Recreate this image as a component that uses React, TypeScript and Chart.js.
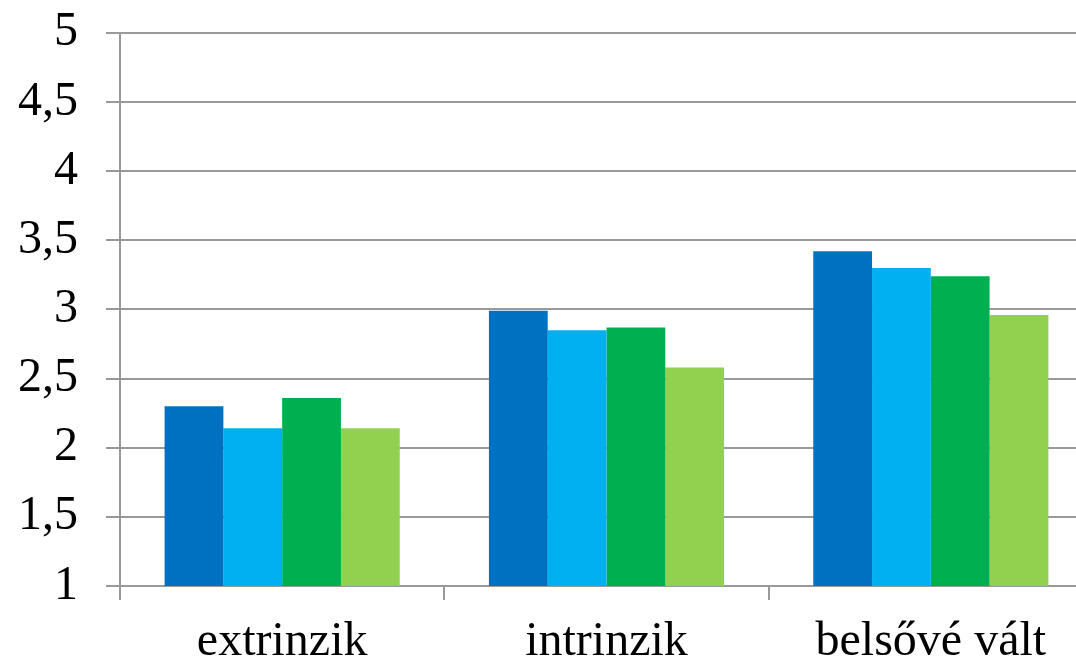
import React, { useEffect, useRef } from "react";
import { Chart, registerables } from "chart.js";

Chart.register(...registerables);

const categories = ["extrinzik", "intrinzik", "belsővé vált"];
const series1 = [2.3, 2.99, 3.42];
const series2 = [2.14, 2.85, 3.3];
const series3 = [2.36, 2.87, 3.24];
const series4 = [2.14, 2.58, 2.96];
const colors = ["#0070C0", "#00B0F0", "#00B050", "#92D050"];
const yTicks = [1, 1.5, 2, 2.5, 3, 3.5, 4, 4.5, 5];

export default function App() {
  const ref = useRef<HTMLCanvasElement | null>(null);
  useEffect(() => {
    document.body.style.margin = "0";
    const font = { family: "'Liberation Serif', 'Times New Roman', serif", size: 48 };
    const grid = "#999999";
    const chart = new Chart(ref.current!, {
      type: "bar",
      data: {
        labels: categories,
        datasets: [series1, series2, series3, series4].map((d, i) => ({
          label: "S" + (i + 1),
          data: d,
          backgroundColor: colors[i],
          borderWidth: 0,
          categoryPercentage: 0.725,
          barPercentage: 1,
        })),
      },
      options: {
        animation: false,
        responsive: false,
        maintainAspectRatio: false,
        layout: { padding: { top: 3, right: 0, left: 0, bottom: 0 } },
        plugins: { legend: { display: false }, tooltip: { enabled: false } },
        scales: {
          x: {
            grid: { drawOnChartArea: false, color: grid, lineWidth: 2, tickLength: 14, offset: true },
            border: { display: false },
            ticks: { font, color: "#000", padding: 14, maxRotation: 0 },
            afterFit: (s: any) => { s.height = 75; },
          },
          y: {
            min: 1,
            max: 5,
            grid: { color: grid, lineWidth: 2, tickLength: 14 },
            border: { color: grid, width: 2 },
            afterBuildTicks: (s: any) => { s.ticks = yTicks.map((v) => ({ value: v })); },
            ticks: {
              font,
              color: "#000",
              padding: 28,
              callback: (v: any) => String(v).replace(".", ","),
            },
            afterFit: (s: any) => { s.width = 120; },
          },
        },
      },
    });
    return () => chart.destroy();
  }, []);
  return (
    <div style={{ position: "absolute", left: 0, top: 0, width: 1076, height: 661, overflow: "hidden", background: "#fff" }}>
      <canvas ref={ref} width={1093} height={685} style={{ width: 1093, height: 685, display: "block", marginTop: -24 }} />
    </div>
  );
}
